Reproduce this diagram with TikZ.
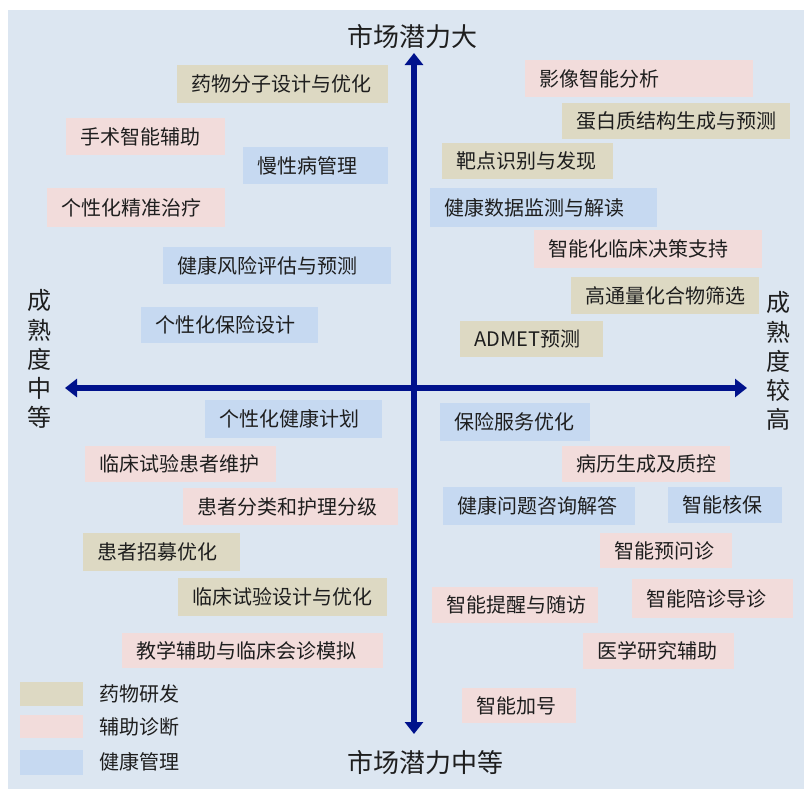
\documentclass[tikz,border=0pt]{standalone}
\usepackage{fontspec}
\newfontfamily\cjk{Noto Sans CJK SC}
\usetikzlibrary{arrows.meta}
\definecolor{bgc}{RGB}{220,230,241}
\definecolor{tanc}{RGB}{221,217,195}
\definecolor{pinkc}{RGB}{242,220,219}
\definecolor{bluec}{RGB}{198,217,241}
\definecolor{axisc}{RGB}{0,18,140}
\definecolor{txtc}{RGB}{30,30,30}
\tikzset{
  boxbase/.style={inner xsep=10.5pt, inner ysep=0pt, align=left, text=txtc,
    font=\cjk\fontsize{15}{18}\selectfont},
  drug/.style={boxbase, fill=tanc},
  diag/.style={boxbase, fill=pinkc},
  hlth/.style={boxbase, fill=bluec},
  ttl/.style={inner sep=0pt, text=txtc, font=\cjk\fontsize{19.5}{22}\selectfont},
  side/.style={inner sep=0pt, text=txtc, align=center, font=\cjk\fontsize{18}{21.8}\selectfont},
  leg/.style={inner sep=0pt, text=txtc, font=\cjk\fontsize{15}{18}\selectfont},
  axisline/.style={draw=axisc, line width=4.5pt, -{Triangle[width=13.5pt,length=9pt]}},
}
\newcommand\qb[7]{%
  \pgfmathsetmacro\qbw{(#4-#3-28)*0.75}%
  \pgfmathsetmacro\qbh{(#6-#5)*0.75}%
  \node[#1, anchor=west, text width=\qbw pt, minimum height=\qbh pt] (#2) at (#3,{(#5+#6)/2}) {#7};}
\begin{document}
\begin{tikzpicture}[x=0.75pt,y=-0.75pt]
\useasboundingbox (0,0) rectangle (804,789);
\fill[white] (0,0) rectangle (804,789);
\fill[bgc] (8,10) rectangle (804,789);
% axes
\coordinate (c) at (414,388);
\coordinate (xl) at (65,388);
\coordinate (xr) at (747,388);
\coordinate (yt) at (414,53);
\coordinate (yb) at (414,734);
\draw[axisline] (c) -- (xl);
\draw[axisline] (c) -- (xr);
\draw[axisline] (c) -- (yt);
\draw[axisline] (c) -- (yb);
% titles
\node[ttl, anchor=west] (top) at (347,37) {市场潜力大};
\node[ttl, anchor=west] (bot) at (347,763) {市场潜力中等};
\node[side] (lft) at (39,359) {成\\熟\\度\\中\\等};
\node[side] (rgt) at (778,361) {成\\熟\\度\\较\\高};
% upper left
\qb{drug}{b1}{177}{388}{65}{103}{药物分子设计与优化}
\qb{diag}{b2}{66}{225}{118}{155}{手术智能辅助}
\qb{hlth}{b3}{243}{388}{147}{184}{慢性病管理}
\qb{diag}{b4}{47}{225}{188}{227}{个性化精准治疗}
\qb{hlth}{b5}{163}{391}{247}{284}{健康风险评估与预测}
\qb{hlth}{b6}{141}{318}{307}{343}{个性化保险设计}
% upper right
\qb{diag}{b7}{525}{753}{60}{97}{影像智能分析}
\qb{drug}{b8}{562}{790}{103}{139}{蛋白质结构生成与预测}
\qb{drug}{b9}{442}{613}{143}{179}{靶点识别与发现}
\qb{hlth}{b10}{430}{657}{188}{227}{健康数据监测与解读}
\qb{diag}{b11}{534}{762}{230}{268}{智能化临床决策支持}
\qb{drug}{b12}{571}{759}{277}{314}{高通量化合物筛选}
\qb{drug}{b13}{460}{603}{321}{357}{ADMET预测}
% lower left
\qb{hlth}{b14}{205}{382}{400}{438}{个性化健康计划}
\qb{diag}{b15}{85}{276}{446}{482}{临床试验患者维护}
\qb{diag}{b16}{183}{398}{488}{525}{患者分类和护理分级}
\qb{drug}{b17}{83}{240}{533}{571}{患者招募优化}
\qb{drug}{b18}{178}{387}{578}{616}{临床试验设计与优化}
\qb{diag}{b19}{122}{383}{633}{668}{教学辅助与临床会诊模拟}
% lower right
\qb{hlth}{b20}{440}{590}{403}{441}{保险服务优化}
\qb{diag}{b21}{562}{730}{446}{482}{病历生成及质控}
\qb{hlth}{b22}{443}{635}{487}{525}{健康问题咨询解答}
\qb{hlth}{b23}{668}{782}{487}{523}{智能核保}
\qb{diag}{b24}{600}{732}{533}{568}{智能预问诊}
\qb{diag}{b25}{432}{598}{587}{623}{智能提醒与随访}
\qb{diag}{b26}{632}{793}{579}{618}{智能陪诊导诊}
\qb{diag}{b27}{583}{734}{633}{669}{医学研究辅助}
\qb{diag}{b28}{462}{576}{688}{723}{智能加号}
% legend
\fill[tanc] (20,682) rectangle (83,706);
\fill[pinkc] (20,715) rectangle (83,738);
\fill[bluec] (20,750) rectangle (83,775);
\node[leg, anchor=west] (l1) at (99,694) {药物研发};
\node[leg, anchor=west] (l2) at (99,726.5) {辅助诊断};
\node[leg, anchor=west] (l3) at (99,762) {健康管理};
\end{tikzpicture}
\end{document}
